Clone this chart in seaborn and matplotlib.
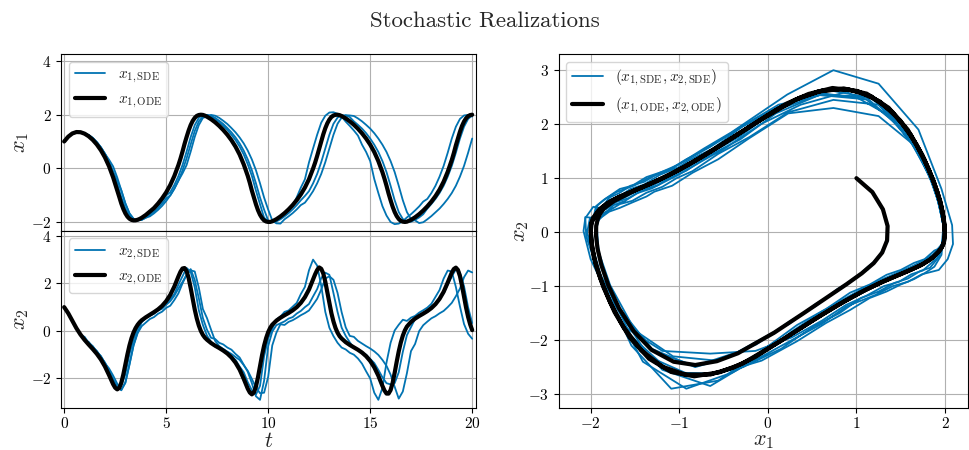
import matplotlib
matplotlib.use("Agg")
import numpy as np
import seaborn as sns
import matplotlib.pyplot as plt
from matplotlib.lines import Line2D

# ---------------- data ----------------
# time samples of the stochastic realizations
t = np.linspace(0.0, 20.0, 101)

# deterministic (ODE) solution, sampled a bit more densely near sharp turns
t_ode = [0.0, 0.2, 0.4, 0.6, 0.8, 1.0, 1.2, 1.4, 1.6, 1.8,
         2.0, 2.2, 2.4, 2.5, 2.6, 2.7, 2.8, 2.9, 3.0, 3.1,
         3.2, 3.3, 3.4, 3.5, 3.6, 3.7, 3.8, 4.0, 4.2, 4.4,
         4.6, 4.8, 5.0, 5.2, 5.4, 5.6, 5.7, 5.8, 5.9, 6.0,
         6.1, 6.2, 6.3, 6.4, 6.5, 6.6, 6.7, 6.8, 6.9, 7.0,
         7.2, 7.4, 7.6, 7.8, 8.0, 8.2, 8.4, 8.6, 8.8, 9.0,
         9.1, 9.2, 9.3, 9.4, 9.5, 9.6, 9.7, 9.8, 9.9, 10.0,
         10.1, 10.2, 10.4, 10.6, 10.8, 11.0, 11.2, 11.4, 11.6, 11.8,
         12.0, 12.2, 12.3, 12.4, 12.5, 12.6, 12.7, 12.8, 12.9, 13.0,
         13.1, 13.2, 13.3, 13.4, 13.5, 13.6, 13.8, 14.0, 14.2, 14.4,
         14.6, 14.8, 15.0, 15.2, 15.4, 15.6, 15.7, 15.8, 15.9, 16.0,
         16.1, 16.2, 16.3, 16.4, 16.5, 16.6, 16.7, 16.8, 17.0, 17.2,
         17.4, 17.6, 17.8, 18.0, 18.2, 18.4, 18.6, 18.8, 19.0, 19.1,
         19.2, 19.3, 19.4, 19.5, 19.6, 19.7, 19.8, 19.9, 20.0]
x1_ode = [1.000, 1.180, 1.299, 1.352, 1.346, 1.291, 1.195, 1.061, 0.889, 0.674,
          0.407, 0.074, -0.337, -0.575, -0.819, -1.063, -1.311, -1.515, -1.679, -1.799,
          -1.878, -1.922, -1.939, -1.937, -1.917, -1.885, -1.844, -1.739, -1.613, -1.483,
          -1.314, -1.121, -0.896, -0.623, -0.287, 0.122, 0.360, 0.622, 0.908, 1.165,
          1.406, 1.611, 1.768, 1.880, 1.953, 1.987, 1.998, 1.990, 1.963, 1.924,
          1.830, 1.715, 1.580, 1.426, 1.250, 1.047, 0.806, 0.514, 0.148, -0.285,
          -0.541, -0.830, -1.090, -1.340, -1.560, -1.730, -1.855, -1.940, -1.982, -1.998,
          -1.997, -1.975, -1.897, -1.794, -1.672, -1.531, -1.370, -1.185, -0.972, -0.717,
          -0.405, -0.010, 0.210, 0.460, 0.730, 1.012, 1.265, 1.494, 1.679, 1.818,
          1.915, 1.969, 1.993, 1.997, 1.982, 1.948, 1.861, 1.751, 1.623, 1.475,
          1.305, 1.110, 0.883, 0.608, 0.267, -0.144, -0.385, -0.649, -0.934, -1.190,
          -1.428, -1.628, -1.780, -1.889, -1.957, -1.988, -1.998, -1.988, -1.920, -1.825,
          -1.709, -1.573, -1.418, -1.240, -1.036, -0.794, -0.499, -0.129, 0.310, 0.568,
          0.856, 1.115, 1.362, 1.577, 1.743, 1.864, 1.944, 1.984, 1.998]
x2_ode = [1.000, 0.742, 0.423, 0.113, -0.154, -0.378, -0.574, -0.762, -0.964, -1.202,
          -1.498, -1.860, -2.243, -2.390, -2.461, -2.400, -2.182, -1.833, -1.413, -0.990,
          -0.614, -0.306, -0.066, 0.117, 0.256, 0.363, 0.448, 0.573, 0.679, 0.788,
          0.906, 1.054, 1.252, 1.516, 1.866, 2.292, 2.488, 2.626, 2.646, 2.517,
          2.227, 1.809, 1.342, 0.900, 0.524, 0.225, -0.004, -0.169, -0.286, -0.371,
          -0.511, -0.622, -0.721, -0.827, -0.953, -1.117, -1.336, -1.628, -2.013, -2.434,
          -2.593, -2.670, -2.590, -2.345, -1.950, -1.480, -1.020, -0.620, -0.300, -0.050,
          0.130, 0.260, 0.430, 0.555, 0.658, 0.755, 0.865, 1.000, 1.180, 1.420,
          1.740, 2.160, 2.380, 2.560, 2.670, 2.614, 2.419, 2.069, 1.621, 1.158,
          0.740, 0.396, 0.125, -0.076, -0.221, -0.320, -0.474, -0.591, -0.692, -0.794,
          -0.912, -1.063, -1.264, -1.532, -1.887, -2.314, -2.506, -2.637, -2.638, -2.492,
          -2.187, -1.762, -1.296, -0.860, -0.492, -0.200, 0.022, 0.182, 0.379, 0.518,
          0.627, 0.726, 0.832, 0.960, 1.126, 1.348, 1.644, 2.034, 2.452, 2.604,
          2.662, 2.566, 2.306, 1.903, 1.434, 0.980, 0.588, 0.275, 0.032]

x1_sde_a = [1.00, 1.18, 1.30, 1.35, 1.35, 1.32, 1.24, 1.13, 0.97, 0.78,
            0.54, 0.24, -0.13, -0.58, -1.07, -1.50, -1.78, -1.91, -1.93, -1.88,
            -1.79, -1.68, -1.55, -1.40, -1.22, -1.01, -0.89, -0.62, -0.29, 0.12,
            0.62, 1.16, 1.61, 1.88, 1.99, 1.99, 1.93, 1.83, 1.72, 1.58,
            1.43, 1.25, 1.05, 0.81, 0.52, 0.15, -0.28, -0.83, -1.34, -1.84,
            -1.97, -1.99, -1.94, -1.85, -1.67, -1.53, -1.37, -1.08, -0.72, -0.41,
            0.22, 0.74, 1.25, 1.70, 1.96, 2.08, 2.09, 2.03, 1.93, 1.74,
            1.58, 1.41, 1.22, 0.88, 0.61, 0.27, -0.40, -0.92, -1.41, -1.76,
            -2.00, -2.08, -2.06, -1.97, -1.83, -1.71, -1.57, -1.42, -1.24, -1.14,
            -0.92, -0.65, -0.31, 0.09, 0.58, 1.11, 1.55, 1.84, 1.97, 1.99,
            1.93]
x2_sde_a = [1.00, 0.76, 0.40, 0.13, -0.18, -0.25, -0.50, -0.64, -0.88, -1.06,
            -1.37, -1.66, -2.08, -2.38, -2.30, -1.82, -0.98, -0.36, 0.12, 0.38,
            0.60, 0.66, 0.80, 0.88, 1.06, 1.20, 1.33, 1.55, 1.95, 2.30,
            2.65, 2.49, 1.84, 0.87, 0.25, -0.20, -0.46, -0.66, -0.72, -0.86,
            -0.94, -1.10, -1.22, -1.50, -1.74, -2.16, -2.50, -2.68, -2.31, -1.07,
            -0.31, 0.09, 0.48, 0.60, 0.80, 0.86, 1.02, 1.18, 1.55, 1.85,
            2.55, 3.00, 2.75, 1.90, 0.80, 0.13, -0.22, -0.50, -0.70, -0.78,
            -0.92, -1.00, -1.16, -1.38, -1.70, -2.00, -2.60, -2.90, -2.40, -1.33,
            -0.50, 0.02, 0.26, 0.47, 0.42, 0.56, 0.63, 0.77, 0.87, 0.98,
            1.14, 1.43, 1.72, 2.20, 2.54, 2.50, 1.85, 1.03, 0.29, -0.12,
            -0.33]

x1_sde_b = [1.00, 1.18, 1.30, 1.35, 1.35, 1.29, 1.24, 1.13, 0.98, 0.78,
            0.54, 0.24, -0.13, -0.46, -0.82, -1.31, -1.68, -1.88, -1.94, -1.92,
            -1.84, -1.74, -1.61, -1.48, -1.31, -1.12, -1.01, -0.76, -0.46, -0.08,
            0.37, 0.89, 1.39, 1.75, 1.93, 1.99, 1.96, 1.88, 1.77, 1.65,
            1.50, 1.34, 1.15, 0.93, 0.66, 0.33, -0.07, -0.56, -1.09, -1.54,
            -1.94, -2.00, -1.98, -1.90, -1.79, -1.67, -1.53, -1.37, -1.19, -1.03,
            -0.85, -0.56, -0.21, 0.23, 0.74, 1.25, 1.66, 1.89, 1.98, 1.97,
            1.91, 1.75, 1.62, 1.48, 1.31, 1.11, 0.88, 0.61, 0.27, -0.14,
            -0.65, -1.19, -1.63, -1.89, -1.99, -1.99, -1.92, -1.83, -1.71, -1.50,
            -1.33, -1.14, -0.92, -0.65, -0.31, 0.09, 0.58, 1.11, 1.55, 1.84,
            1.97]
x2_sde_b = [1.00, 0.73, 0.44, 0.10, -0.13, -0.40, -0.46, -0.69, -0.84, -1.10,
            -1.33, -1.70, -2.03, -2.33, -2.50, -2.16, -1.40, -0.62, -0.10, 0.20,
            0.35, 0.50, 0.58, 0.72, 0.81, 0.97, 1.06, 1.30, 1.58, 2.00,
            2.36, 2.60, 2.14, 1.37, 0.54, 0.05, -0.29, -0.34, -0.50, -0.57,
            -0.70, -0.79, -0.97, -1.12, -1.42, -1.72, -2.20, -2.75, -2.90, -2.10,
            -0.64, -0.03, 0.24, 0.32, 0.40, 0.52, 0.58, 0.73, 0.84, 1.00,
            1.13, 1.45, 1.76, 2.22, 2.45, 2.36, 1.59, 0.80, 0.14, -0.21,
            -0.48, -0.71, -0.78, -0.92, -1.00, -1.18, -1.35, -1.64, -1.95, -2.20,
            -2.25, -2.20, -1.74, -0.88, -0.18, 0.16, 0.50, 0.62, 0.74, 0.87,
            1.02, 1.13, 1.35, 1.58, 1.95, 2.30, 2.58, 2.46, 1.88, 0.99,
            0.33]

x1_sde_c = [1.00, 1.18, 1.30, 1.35, 1.35, 1.29, 1.24, 1.13, 0.97, 0.78,
            0.54, 0.32, 0.07, -0.34, -0.82, -1.31, -1.68, -1.88, -1.94, -1.92,
            -1.84, -1.79, -1.68, -1.55, -1.40, -1.22, -1.01, -0.76, -0.46, -0.19,
            0.12, 0.62, 1.17, 1.61, 1.88, 1.93, 1.99, 1.96, 1.88, 1.77,
            1.65, 1.50, 1.34, 1.15, 0.93, 0.66, 0.33, -0.07, -0.56, -1.09,
            -1.54, -1.94, -2.05, -2.06, -1.90, -1.79, -1.67, -1.53, -1.37, -1.28,
            -1.08, -0.85, -0.56, -0.21, 0.23, 0.74, 1.25, 1.66, 1.89, 1.98,
            1.97, 1.95, 1.86, 1.75, 1.62, 1.48, 1.31, 1.11, 0.88, 0.61,
            0.27, -0.14, -0.65, -1.19, -1.63, -1.89, -1.94, -2.04, -2.01, -1.90,
            -1.78, -1.64, -1.50, -1.33, -1.14, -0.92, -0.65, -0.31, 0.09, 0.58,
            1.11]
x2_sde_c = [1.00, 0.75, 0.41, 0.12, -0.16, -0.36, -0.49, -0.66, -0.87, -1.07,
            -1.36, -1.58, -1.88, -2.22, -2.48, -2.19, -1.43, -0.60, -0.05, 0.37,
            0.53, 0.64, 0.72, 0.86, 0.93, 1.10, 1.25, 1.48, 1.78, 2.06,
            2.36, 2.55, 2.50, 1.82, 0.92, 0.54, 0.05, -0.42, -0.64, -0.76,
            -0.87, -0.97, -1.10, -1.22, -1.44, -1.68, -2.02, -2.38, -2.62, -2.60,
            -1.93, -0.61, -0.08, 0.28, 0.25, 0.38, 0.45, 0.55, 0.66, 0.75,
            0.86, 1.10, 1.35, 1.74, 2.20, 2.30, 2.15, 1.60, 0.79, 0.15,
            -0.21, -0.25, -0.42, -0.53, -0.64, -0.74, -0.86, -1.01, -1.22, -1.47,
            -1.84, -2.35, -2.85, -2.55, -1.78, -0.85, -0.55, -0.01, 0.24, 0.39,
            0.53, 0.62, 0.74, 0.84, 1.00, 1.18, 1.46, 1.78, 2.26, 2.54,
            2.46]

t_ticks = [0, 5, 10, 15, 20]
x_ticks_left = [-2, 0, 2, 4]
phase_xticks = [-2, -1, 0, 1, 2]
phase_yticks = [-3, -2, -1, 0, 1, 2, 3]

# ---------------- style ----------------
sns.set_theme(style="whitegrid")
plt.rcParams.update({
    "font.family": ["cmr10", "DejaVu Serif"],
    "mathtext.fontset": "cm",
    "axes.formatter.use_mathtext": True,
    "axes.unicode_minus": True,
    "axes.edgecolor": "black",
    "axes.linewidth": 0.8,
    "axes.facecolor": "white",
    "grid.color": "#b0b0b0",
    "grid.linewidth": 0.8,
    "xtick.bottom": True,
    "ytick.left": True,
    "xtick.major.size": 3.5,
    "ytick.major.size": 3.5,
    "xtick.major.width": 0.8,
    "ytick.major.width": 0.8,
    "xtick.major.pad": 2.5,
    "xtick.color": "black",
    "ytick.color": "black",
    "xtick.labelsize": 11,
    "ytick.labelsize": 11,
})

blue = sns.color_palette("colorblind")[0]

fig = plt.figure(figsize=(9.7, 4.5), dpi=100)
ax1 = fig.add_axes([0.063, 0.487, 0.428, 0.393])
ax2 = fig.add_axes([0.063, 0.093, 0.428, 0.394], sharex=ax1)
ax3 = fig.add_axes([0.576, 0.093, 0.422, 0.787])

sde_x1 = [x1_sde_a, x1_sde_b, x1_sde_c]
sde_x2 = [x2_sde_a, x2_sde_b, x2_sde_c]

for a, b in zip(sde_x1, sde_x2):
    sns.lineplot(x=t, y=a, ax=ax1, color=blue, lw=1.3, estimator=None, sort=False, legend=False)
    sns.lineplot(x=t, y=b, ax=ax2, color=blue, lw=1.3, estimator=None, sort=False, legend=False)
    sns.lineplot(x=a, y=b, ax=ax3, color=blue, lw=1.3, estimator=None, sort=False, legend=False)

sns.lineplot(x=t_ode, y=x1_ode, ax=ax1, color="black", lw=3, estimator=None, sort=False, legend=False)
sns.lineplot(x=t_ode, y=x2_ode, ax=ax2, color="black", lw=3, estimator=None, sort=False, legend=False)
sns.lineplot(x=x1_ode, y=x2_ode, ax=ax3, color="black", lw=3, estimator=None, sort=False, legend=False)

for ax in (ax1, ax2):
    ax.set_xlim(-0.15, 20.2)
    ax.set_xticks(t_ticks)
    ax.set_yticks(x_ticks_left)
ax1.set_ylim(-2.33, 4.26)
ax2.set_ylim(-3.25, 4.21)
ax1.tick_params(labelbottom=False)

ax3.set_xlim(-2.36, 2.26)
ax3.set_ylim(-3.26, 3.3)
ax3.set_xticks(phase_xticks)
ax3.set_yticks(phase_yticks)

for ax in (ax1, ax2, ax3):
    for s in ax.spines.values():
        s.set_color("black")
        s.set_linewidth(0.8)
    ax.grid(True, color="#b0b0b0", lw=0.8)

lab_fs = 16
ax1.set_ylabel(r"$x_1$", fontsize=lab_fs, labelpad=0)
ax2.set_ylabel(r"$x_2$", fontsize=lab_fs, labelpad=0)
ax2.set_xlabel(r"$t$", fontsize=lab_fs, labelpad=0)
ax3.set_xlabel(r"$x_1$", fontsize=lab_fs, labelpad=0)
ax3.set_ylabel(r"$x_2$", fontsize=lab_fs, labelpad=-2)

leg_kw = dict(loc="upper left", fontsize=11, frameon=True, fancybox=True,
              framealpha=0.8, edgecolor="0.8", handlelength=2.0, borderpad=0.4,
              labelspacing=0.5)

def handles():
    return [Line2D([], [], color=blue, lw=1.3), Line2D([], [], color="black", lw=3)]

ax1.legend(handles(), [r"$x_{1,\mathrm{SDE}}$", r"$x_{1,\mathrm{ODE}}$"], **leg_kw)
ax2.legend(handles(), [r"$x_{2,\mathrm{SDE}}$", r"$x_{2,\mathrm{ODE}}$"], **leg_kw)
ax3.legend(handles(), [r"$(x_{1,\mathrm{SDE}}, x_{2,\mathrm{SDE}})$",
                       r"$(x_{1,\mathrm{ODE}}, x_{2,\mathrm{ODE}})$"], **leg_kw)

fig.suptitle("Stochastic Realizations", fontsize=16.5, y=0.975)

fig.savefig("out.png", dpi=100)
